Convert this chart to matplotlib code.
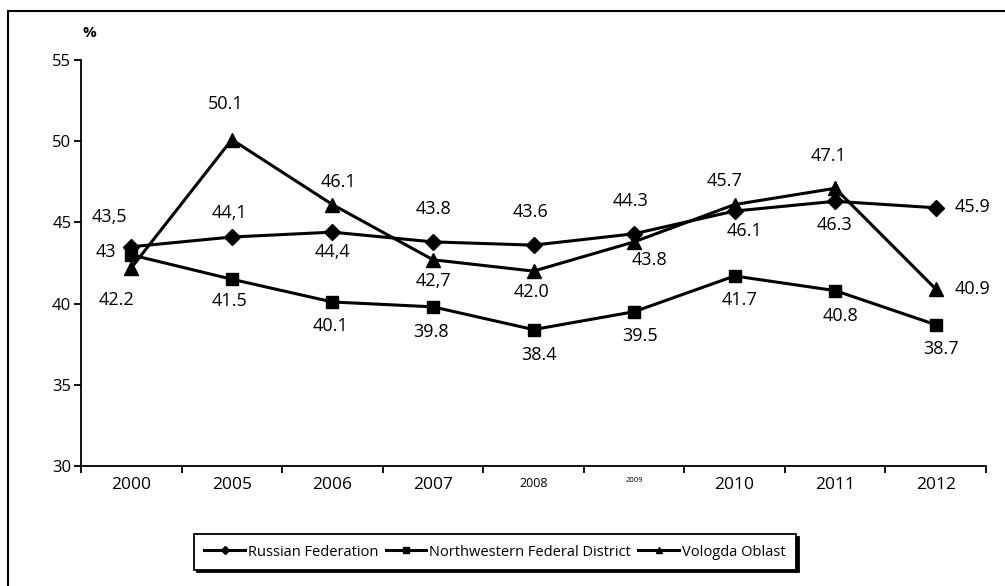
import matplotlib.pyplot as plt
import matplotlib.patches as mpatches

# Données
annees = ["2000", "2005", "2006", "2007", "2008", "2009", "2010", "2011", "2012"]
russie = [43.5, 44.1, 44.4, 43.8, 43.6, 44.3, 45.7, 46.3, 45.9]
nord_ouest = [43.0, 41.5, 40.1, 39.8, 38.4, 39.5, 41.7, 40.8, 38.7]
vologda = [42.2, 50.1, 46.1, 42.7, 42.0, 43.8, 46.1, 47.1, 40.9]

# Textes des étiquettes (tels qu'affichés sur l'original)
txt_russie = ["43,5", "44,1", "44,4", "43.8", "43.6", "44.3", "45.7", "46.3", "45.9"]
txt_nord_ouest = ["43", "41.5", "40.1", "39.8", "38.4", "39.5", "41.7", "40.8", "38.7"]
txt_vologda = ["42.2", "50.1", "46.1", "42,7", "42.0", "43.8", "46.1", "47.1", "40.9"]

# Décalages des étiquettes (pixels)
off_russie = [(-22, 30), (-2, 24), (0, -20), (0, 33), (-3, 33), (-3, 33), (-10, 30), (-1, -24), (37, 1)]
off_nord_ouest = [(-25, 3), (-2, -22), (-2, -24), (-2, -25), (6, -25), (6, -24), (5, -24), (5, -25), (5, -24)]
off_vologda = [(-15, -32), (-6, 36), (6, 23), (0, -21), (-2, -21), (15, -18), (10, -26), (-7, 32), (37, 0)]

plt.rcParams['font.family'] = ['Open Sans', 'DejaVu Sans']

fig = plt.figure(figsize=(10.05, 5.86), dpi=100)
ax = fig.add_axes([81 / 1005, 1 - 466 / 586, (986 - 81) / 1005, (466 - 60) / 586])

x = list(range(len(annees)))
ax.plot(x, russie, color='black', lw=2.2, marker='D', markersize=8.5, label="Russian Federation")
ax.plot(x, nord_ouest, color='black', lw=2.2, marker='s', markersize=9, label="Northwestern Federal District")
ax.plot(x, vologda, color='black', lw=2.2, marker='^', markersize=10, label="Vologda Oblast")

for serie, textes, offs in [(russie, txt_russie, off_russie),
                            (nord_ouest, txt_nord_ouest, off_nord_ouest),
                            (vologda, txt_vologda, off_vologda)]:
    for i, (v, t, o) in enumerate(zip(serie, textes, offs)):
        ax.annotate(t, (i, v), xytext=o, textcoords='offset pixels',
                    ha='center', va='center', fontsize=13)

# Axes
ax.set_xlim(-0.5, len(annees) - 0.5)
ax.set_ylim(30, 55)
ax.set_yticks([30, 35, 40, 45, 50, 55])
ax.tick_params(axis='y', labelsize=12, length=5, width=1.3, direction='out', pad=2)
ax.set_xticks([i - 0.5 for i in range(len(annees) + 1)])
ax.set_xticklabels([])
ax.tick_params(axis='x', which='major', length=5, width=1.3, direction='out')
ax.set_xticks(x, minor=True)
ax.set_xticklabels(annees, minor=True)
ax.tick_params(axis='x', which='minor', length=0, labelsize=12.5, pad=8)
for lab in ax.get_xticklabels(minor=True):
    if lab.get_text() == "2008":
        lab.set_fontsize(9)
    elif lab.get_text() == "2009":
        lab.set_fontsize(5.5)

ax.spines['top'].set_visible(False)
ax.spines['right'].set_visible(False)
ax.spines['left'].set_linewidth(1.3)
ax.spines['bottom'].set_linewidth(1.3)

fig.text(82 / 1005, 1 - 33 / 586, "%", fontsize=11, fontweight='bold', ha='left', va='center')

# Cadre extérieur
cadre = mpatches.Rectangle((8 / 1005, -0.1), 1.2, 1 - 11 / 586 + 0.1, transform=fig.transFigure,
                           fill=False, edgecolor='black', lw=1.5, clip_on=False)
fig.patches.append(cadre)

# Légende
leg = fig.legend(loc='center', bbox_to_anchor=(495 / 1005, 1 - 552 / 586), ncol=3,
                 fontsize=10.5, frameon=True, fancybox=False, markerscale=0.45,
                 handlelength=2.8, columnspacing=0.5, handletextpad=0.2,
                 borderpad=0.7, borderaxespad=0, shadow={'color': 'black', 'alpha': 1})
leg.get_frame().set_edgecolor('black')
leg.get_frame().set_linewidth(1.3)

plt.savefig("out.png", dpi=100)
